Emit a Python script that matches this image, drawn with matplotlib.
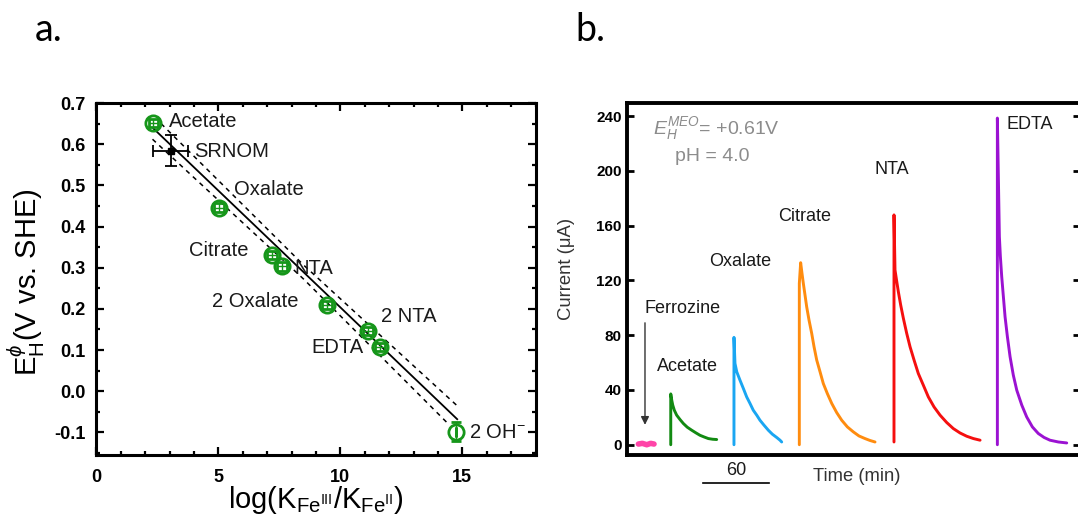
import matplotlib
matplotlib.use('Agg')
import matplotlib.pyplot as plt
from matplotlib.ticker import MultipleLocator, FormatStrFormatter, NullLocator

plt.rcParams['font.family'] = ['Liberation Sans', 'DejaVu Sans']
plt.rcParams['mathtext.fontset'] = 'custom'
plt.rcParams['mathtext.rm'] = 'Liberation Sans'
plt.rcParams['mathtext.it'] = 'Liberation Sans:italic'
plt.rcParams['mathtext.bf'] = 'Liberation Sans:bold'
plt.rcParams['mathtext.sf'] = 'Liberation Sans'

# ---------------- Panel a data ----------------
ligands = ['Acetate', 'Oxalate', 'Citrate', 'NTA', '2 Oxalate', '2 NTA', 'EDTA', '2 OH$^{-}$']
log_k_ratio = [2.34, 5.02, 7.19, 7.62, 9.44, 11.14, 11.64, 14.76]
eh_values = [0.652, 0.446, 0.331, 0.303, 0.210, 0.146, 0.108, -0.098]
eh_err = [0.010, 0.010, 0.010, 0.012, 0.010, 0.010, 0.010, 0.022]
logk_err = [0.2, 0.2, 0.2, 0.2, 0.2, 0.2, 0.2, 0.0]
srnom_x = [3.04]
srnom_y = [0.584]
srnom_xerr = [0.7]
srnom_yerr = [0.038]
fit_x = [2.34, 14.79]
fit_y = [0.638, -0.068]
band_upper_x = [2.65, 8.5, 14.8]
band_upper_y = [0.650, 0.306, -0.036]
band_lower_x = [2.30, 8.5, 14.35]
band_lower_y = [0.612, 0.272, -0.075]
x_ticks_a = [0, 5, 10, 15]
y_ticks_a = [-0.1, 0.0, 0.1, 0.2, 0.3, 0.4, 0.5, 0.6, 0.7]

# label anchor positions (layout)
label_pos_x = [2.98, 5.63, 3.79, 8.12, 4.75, 11.66, 8.8, 15.28]
label_pos_y = [0.654, 0.489, 0.342, 0.297, 0.219, 0.182, 0.106, -0.100]

# ---------------- Panel b data ----------------
trace_names = ['Ferrozine', 'Acetate', 'Oxalate', 'Citrate', 'NTA', 'EDTA']
t_ferrozine = [10.5, 14.0, 18.0, 21.5, 24.5]
i_ferrozine = [0.5, 1.0, 0.0, 1.0, 0.5]
t_acetate = [39.5, 39.5, 40.4, 41.3, 42.7, 44.8, 47.8, 50.8, 54.3, 58.3, 62.2, 65.7,
             69.3, 73.2, 77.1, 80.7]
i_acetate = [0.0, 37.1, 32.5, 28.9, 25.2, 21.6, 18.4, 15.5, 12.8, 10.6, 8.6, 6.9,
             5.7, 4.5, 4.0, 3.8]
t_oxalate = [96.2, 96.2, 97.1, 98.7, 101.6, 104.6, 107.6, 110.6, 113.5, 116.6, 119.5,
             123.1, 127.0, 130.6, 134.5, 137.5, 139.0]
i_oxalate = [0.0, 78.4, 59.4, 53.2, 47.1, 41.1, 34.9, 30.1, 25.2, 21.6, 17.9,
             14.3, 10.6, 7.7, 5.3, 3.3, 2.0]
t_citrate = [154.8, 154.8, 156.0, 157.2, 158.4, 159.9, 161.4, 163.5, 165.9, 168.0, 170.4,
             173.4, 176.3, 179.9, 183.9, 188.3, 192.8, 197.9, 203.2, 208.3, 213.7,
             218.2, 222.7]
i_citrate = [0.0, 117.8, 132.9, 125.1, 117.8, 109.3, 100.7, 91.0, 81.3, 71.5, 61.8,
             53.2, 44.7, 37.4, 30.1, 23.5, 17.9, 13.0, 9.4, 6.4, 4.5,
             3.1, 2.0]
t_nta = [239.7, 239.7, 240.6, 242.2, 243.6, 245.7, 248.1, 251.1, 254.1, 257.7, 261.5,
         266.0, 270.5, 275.6, 281.0, 287.0, 292.9, 298.9, 304.9, 310.9, 316.9]
i_nta = [2.0, 167.8, 127.6, 119.0, 111.7, 102.0, 92.3, 81.3, 71.5, 61.8, 52.0,
         43.5, 34.9, 27.6, 21.6, 16.2, 11.8, 8.6, 6.2, 4.5, 3.3]
t_edta = [332.4, 332.4, 334.2, 335.1, 336.3, 337.8, 339.3, 341.4, 343.8, 346.7, 349.8,
          354.3, 358.7, 363.8, 369.1, 374.3, 379.6, 387.1, 394.6]
i_edta = [0.0, 238.5, 151.9, 137.3, 122.7, 108.0, 93.4, 78.8, 64.2, 50.8, 39.8,
          28.9, 20.3, 13.0, 8.2, 5.3, 3.3, 2.0, 1.3]
trace_colors = ['#ff45a8', '#128a12', '#1aa6f2', '#ff8c0f', '#f50f0f', '#9b12d2']
y_ticks_b = [0, 40, 80, 120, 160, 200, 240]
scale_bar_minutes = 60
scale_bar_start = 68.0

W, H = 1078, 517
fig = plt.figure(figsize=(W / 100, H / 100), dpi=100)


def fr(x0, y0, x1, y1):
    return [x0 / W, 1 - y1 / H, (x1 - x0) / W, (y1 - y0) / H]


# ================= Panel a =================
ax = fig.add_axes(fr(96.4, 103, 535.5, 455))
green = '#16961a'
ax.plot(fit_x, fit_y, color='black', lw=1.3, zorder=2)
ax.plot(band_upper_x, band_upper_y, color='black', lw=1.1, ls=(0, (3, 3)), zorder=2)
ax.plot(band_lower_x, band_lower_y, color='black', lw=1.1, ls=(0, (3, 3)), zorder=2)
ax.errorbar(log_k_ratio, eh_values, yerr=eh_err, xerr=logk_err, fmt='o', ms=11,
            mfc='none', mec=green, mew=2.0, ecolor=green, elinewidth=1.0,
            capsize=3.5, capthick=1.0, zorder=3)
ax.errorbar(srnom_x, srnom_y, xerr=srnom_xerr, yerr=srnom_yerr, fmt='s', ms=4.5,
            color='black', elinewidth=1.3, capsize=4, capthick=1.3, zorder=4)
for name, lx, ly in zip(ligands, label_pos_x, label_pos_y):
    ax.text(lx, ly, name, fontsize=14.5, ha='left', va='center', color='#1a1a1a')
ax.text(srnom_x[0] + 0.98, srnom_y[0] - 0.003, 'SRNOM', fontsize=14.5, ha='left',
        va='center', color='#1a1a1a')

ax.set_xlim(0, 18)
ax.set_ylim(-0.155, 0.7)
ax.set_xticks(x_ticks_a)
ax.set_yticks(y_ticks_a)
ax.xaxis.set_minor_locator(MultipleLocator(1))
ax.yaxis.set_minor_locator(MultipleLocator(0.05))
ax.yaxis.set_major_formatter(FormatStrFormatter('%.1f'))
ax.tick_params(which='both', direction='in', top=True, right=True, width=1.6)
ax.tick_params(which='major', length=5.5, labelsize=13)
ax.tick_params(axis='x', which='major', pad=10)
ax.tick_params(axis='y', which='major', pad=8)
ax.tick_params(which='minor', length=3)
for lab in ax.get_xticklabels() + ax.get_yticklabels():
    lab.set_fontweight('bold')
for sp in ax.spines.values():
    sp.set_linewidth(2.2)
ax.set_xlabel(r'log(K$_{\mathrm{Fe}^{\mathrm{III}}}$/K$_{\mathrm{Fe}^{\mathrm{II}}}$)', fontsize=21)
ax.xaxis.set_label_coords(0.5, -0.083)
ax.set_ylabel(r'E$_{\mathrm{H}}^{\phi}$(V vs. SHE)', fontsize=21)
ax.yaxis.set_label_coords(-0.112, 0.49)

fig.text(35 / W, 1 - 41 / H, 'a.', fontsize=27, family='Lato', ha='left', va='baseline')
fig.text(575 / W, 1 - 41 / H, 'b.', fontsize=27, family='Lato', ha='left', va='baseline')

# ================= Panel b =================
bx = fig.add_axes(fr(626.7, 103, 1080, 455))
traces_t = [t_ferrozine, t_acetate, t_oxalate, t_citrate, t_nta, t_edta]
traces_i = [i_ferrozine, i_acetate, i_oxalate, i_citrate, i_nta, i_edta]
for k, (tt, ii, col) in enumerate(zip(traces_t, traces_i, trace_colors)):
    lw = 4.0 if k == 0 else 2.1
    bx.plot(tt, ii, color=col, lw=lw, solid_joinstyle='round', solid_capstyle='round')

bx.annotate('', xy=(16.4, 14.5), xytext=(16.4, 89),
            arrowprops=dict(arrowstyle='-|>', color='#333333', lw=1.0, mutation_scale=12,
                            shrinkA=0, shrinkB=0))

txt_col = '#1a1a1a'
bx.text(16.1, 99.6, 'Ferrozine', fontsize=13, ha='left', va='center', color=txt_col)
bx.text(27.4, 57.4, 'Acetate', fontsize=13, ha='left', va='center', color=txt_col)
bx.text(73.6, 134.1, 'Oxalate', fontsize=13, ha='left', va='center', color=txt_col)
bx.text(136.1, 166.5, 'Citrate', fontsize=13, ha='left', va='center', color=txt_col)
bx.text(222.2, 200.7, 'NTA', fontsize=13, ha='left', va='center', color=txt_col)
bx.text(340.2, 233.6, 'EDTA', fontsize=13, ha='left', va='center', color=txt_col)

grey = '#8c8c8c'
bx.text(23.9, 231, r'$\mathit{E}_{\mathit{H}}^{\mathit{MEO}}$= +0.61V', fontsize=14,
        ha='left', va='center', color=grey)
bx.text(43.3, 210.8, 'pH = 4.0', fontsize=14, ha='left', va='center', color=grey)

bx.set_xlim(0, 406.5)
bx.set_ylim(-7.5, 249.5)
bx.set_yticks(y_ticks_b)
bx.xaxis.set_major_locator(NullLocator())
bx.tick_params(axis='y', direction='in', left=True, right=True, length=5, width=2,
               labelsize=11, pad=3.5)
for lab in bx.get_yticklabels():
    lab.set_fontweight('bold')
for sp in bx.spines.values():
    sp.set_linewidth(2.8)
bx.set_ylabel('Current (\u03bcA)', fontsize=13.3, color='#333333')
bx.yaxis.set_label_coords(-0.113, 0.53)

xt = bx.get_xaxis_transform()
bx.plot([scale_bar_start, scale_bar_start + scale_bar_minutes], [-0.080, -0.080],
        color='black', lw=1.2, transform=xt, clip_on=False)
bx.text(scale_bar_start + scale_bar_minutes / 2, -0.045, '60', fontsize=13,
        ha='center', va='center', transform=xt, color=txt_col)
bx.text(0.507, -0.062, 'Time (min)', fontsize=13.2, ha='center', va='center',
        transform=bx.transAxes, color='#333333')

fig.savefig('out.png', dpi=100)
